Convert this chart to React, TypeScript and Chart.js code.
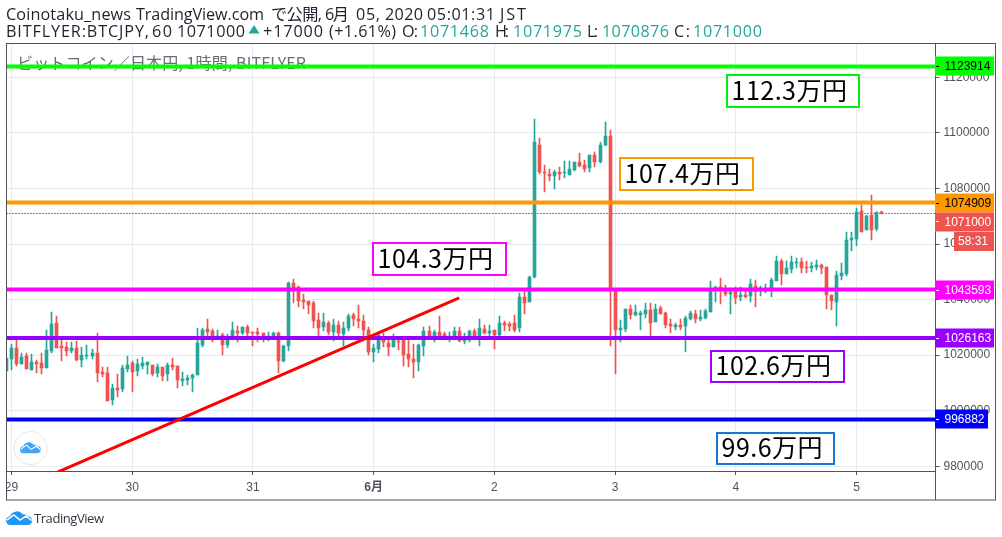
import React, { useEffect, useRef } from "react";
import { Chart, registerables } from "chart.js";

Chart.register(...registerables);

const firstIndex = -1;
const opens = [
  1014300,1018600,1022600,1016800,1019700,1014700,1017500,1017200,1015400,1021500,
  1031600,1023300,1022900,1021500,1022600,1018300,1019700,1019700,1020800,1013900,
  1013600,1003900,1008200,1007800,1015000,1017200,1014300,1016100,1016500,1016500,
  1013600,1015700,1013200,1016500,1016100,1010700,1011100,1011800,1012900,1023700,
  1029400,1028700,1026200,1027300,1023700,1026200,1028700,1028000,1030100,1028300,
  1028300,1028000,1026700,1026900,1028000,1017900,1023300,1046000,1044500,1039900,
  1039500,1038800,1032700,1030100,1031600,1028300,1030900,1027600,1029800,1034500,
  1033000,1032300,1029100,1021100,1022200,1025800,1024400,1022900,1025100,1025500,
  1020400,1018600,1017500,1023300,1028700,1026700,1028300,1027600,1026700,1026900,
  1028700,1025100,1025500,1028700,1026900,1029400,1028000,1029100,1027300,1031600,
  1031200,1031600,1029800,1040900,1039100,1048100,1095700,1085900,1085200,1084500,
  1085900,1085600,1084900,1086700,1089500,1088500,1087400,1092100,1089500,1095700,
  1098900,1043700,1029100,1029400,1036600,1034500,1034600,1034800,1036300,1031900,
  1037000,1035200,1031200,1030100,1030900,1030500,1033000,1034800,1033000,1033400,
  1035500,1043500,1044500,1043500,1042000,1043500,1040900,1041700,1041300,1044900,
  1043100,1043200,1043500,1046700,1053900,1049200,1051000,1053200,1053500,1051700,
  1051400,1051700,1052500,1051700,1041700,1039100,1048500,1049200,1061500,1061800,
  1071900,1065100,1070500,1065400,1071468,
];
const highs = [
  1019000,1024000,1026100,1020700,1020700,1020400,1018300,1020800,1029100,1035500,
  1034100,1026100,1024700,1024700,1025200,1022900,1023700,1022200,1028000,1015700,
  1015700,1009600,1013200,1016500,1019700,1017900,1018600,1019300,1017500,1016500,
  1016800,1015700,1017200,1019000,1016100,1013900,1012900,1013200,1029800,1029800,
  1033000,1029400,1029100,1028000,1027600,1031900,1030500,1030100,1030900,1028300,
  1029800,1028000,1028300,1028300,1028300,1023700,1046300,1047400,1044900,1042000,
  1039500,1039500,1035200,1035200,1032300,1033000,1032300,1031900,1034800,1035200,
  1038100,1034500,1030100,1024000,1027600,1028000,1025800,1027600,1025800,1025800,
  1025800,1024000,1024000,1030100,1030500,1029100,1034100,1028300,1028500,1030100,
  1030100,1027800,1029100,1029400,1033000,1030900,1030900,1029100,1034100,1032300,
  1031900,1034500,1042400,1043500,1048500,1105000,1098200,1088500,1087000,1086700,
  1087700,1089900,1089900,1089500,1092800,1090300,1092100,1093100,1096700,1103900,
  1101100,1043800,1032700,1036600,1038100,1038100,1035900,1038800,1038800,1038400,
  1037700,1035500,1033000,1031600,1033000,1034100,1035900,1036300,1036300,1036600,
  1046700,1044900,1047800,1045300,1044200,1044500,1044500,1043500,1047400,1047100,
  1044900,1045600,1047800,1055700,1054600,1053900,1055700,1055000,1055000,1053900,
  1053500,1054300,1052800,1051700,1041700,1050300,1053200,1064300,1064300,1073000,
  1074100,1070500,1077700,1071500,1071975,
];
const lows = [
  1014300,1014700,1016100,1016800,1015000,1014700,1013600,1013200,1015400,1020900,
  1022600,1017900,1019700,1020800,1017900,1015700,1018600,1018600,1010300,1012100,
  1003500,1002100,1004900,1006700,1013900,1006700,1012500,1015000,1013200,1012500,
  1012100,1010700,1010700,1014700,1008200,1008900,1009300,1006700,1012900,1022900,
  1026900,1024900,1026200,1020100,1022600,1025500,1024700,1027300,1026900,1023300,
  1024700,1024700,1025100,1026900,1013600,1017500,1021500,1038800,1037300,1036600,
  1034800,1029800,1026900,1028700,1027300,1025100,1026900,1023300,1028700,1030500,
  1029800,1026900,1020100,1017500,1020800,1022900,1019700,1022900,1021900,1016100,
  1015700,1011800,1014300,1019700,1026100,1024700,1026700,1026900,1024700,1025500,
  1024700,1024000,1024700,1025500,1023300,1027600,1026900,1022200,1026900,1028700,
  1028700,1028300,1028300,1034800,1039100,1047900,1085200,1078700,1082700,1079800,
  1083100,1083800,1084900,1086300,1087700,1085900,1085900,1087700,1089200,1095300,
  1023300,1013200,1024700,1028300,1033000,1034100,1029100,1033400,1026700,1031900,
  1034800,1029800,1028000,1029100,1029100,1021100,1032700,1031600,1032300,1033000,
  1035500,1039100,1038400,1041300,1034800,1038400,1039500,1040600,1039100,1037300,
  1041300,1042400,1040900,1046700,1045300,1049200,1049600,1051400,1049600,1049600,
  1049900,1050700,1049200,1036600,1036300,1030500,1047100,1048500,1057500,1059300,
  1064300,1065100,1061500,1064700,1070876,
];
const closes = [
  1019000,1022600,1016800,1019300,1015000,1017500,1016800,1015400,1021900,1031200,
  1022600,1022600,1021500,1022600,1018300,1020100,1020100,1020800,1013600,1013200,
  1003500,1008200,1007500,1015400,1016500,1013900,1016800,1017200,1017500,1013200,
  1015700,1012500,1016500,1015700,1011100,1011400,1011800,1012900,1024400,1029100,
  1028300,1026900,1026900,1023700,1025800,1029100,1028000,1030100,1028000,1028000,
  1027600,1026900,1026900,1028000,1017900,1023300,1046000,1044200,1039500,1039100,
  1038100,1032300,1029800,1031900,1028300,1030900,1028000,1029800,1034100,1033000,
  1032300,1029100,1021100,1022600,1027300,1024700,1022900,1025800,1024700,1020100,
  1018600,1017500,1023700,1028700,1026900,1028300,1026900,1026900,1026900,1028700,
  1025100,1025800,1028700,1026900,1029700,1028000,1028700,1027300,1031600,1030900,
  1030500,1029100,1040900,1038800,1048100,1096700,1085900,1085600,1084500,1085900,
  1085200,1085900,1087000,1089500,1088100,1087000,1092100,1089500,1095700,1098900,
  1043700,1029100,1029800,1036600,1034500,1035500,1035200,1036300,1031600,1036600,
  1034800,1030900,1030500,1030900,1030100,1033400,1035200,1033000,1033700,1035900,
  1043500,1044500,1043500,1042000,1042700,1040600,1041700,1040900,1045600,1042700,
  1043800,1043800,1047100,1053900,1049200,1051400,1053500,1053500,1051400,1051400,
  1052100,1052500,1051400,1041700,1039500,1048900,1049600,1061500,1062200,1071500,
  1064300,1070100,1065100,1071500,1071000,
];

const dayTickValues = [0, 24, 48, 72, 96, 120, 144, 168];
const dayTickLabels = ["29", "30", "31", "6月", "2", "3", "4", "5"];
const priceTickValues = [980000, 1000000, 1020000, 1040000, 1060000, 1080000, 1100000, 1120000];
const lastPrice = 1071000;
const countdownText = "58:31";
const levelValues = [1123914, 1074909, 1043593, 1026163, 996882];
const levelColors = ["#00ff00", "#ff9800", "#ff00ff", "#9900ff", "#0000ff"];
const levelTextColors = ["#000000", "#000000", "#ffffff", "#ffffff", "#ffffff"];
const trendX = [8, 89];
const trendY = [977000, 1040600];

const noteTexts = ["112.3万円", "107.4万円", "104.3万円", "102.6万円", "99.6万円"];
const noteColors = ["#00f014", "#ff9800", "#ff00ff", "#9900ff", "#1976d2"];
const noteBoxes = [
  [727, 75, 132, 32],
  [620, 158, 133, 32],
  [373, 243, 133, 32],
  [711, 351, 133, 31],
  [717, 433, 117, 31],
];

const headerLine1 = ["Coinotaku_news", "TradingView.com", "で公開,", "6月", "05,", "2020", "05:01:31", "JST"];
const headerLine1Spans = [[6, 131], [136, 264], [271, 322], [325, 349], [356, 380], [385, 423], [427, 495], [500, 526]];
const headerLine2 = ["BITFLYER:BTCJPY,", "60", "1071000", "+17000", "(+1.61%)", "O:", "1071468", "H:", "1071975", "L:", "1070876", "C:", "1071000"];
const headerLine2Spans = [[6, 149], [152, 172], [177, 245], [263, 323], [329, 396], [402, 418], [420, 489], [495, 509], [513, 582], [587, 598], [602, 669], [674, 690], [693, 762]];
const headerLine2Teal = [6, 8, 10, 12];

const UP = "#26a69a";
const DOWN = "#ef5350";
const GRID = "#e3ecf3";
const FRAME = "#50535e";
const AXIS_TEXT = "#50535e";
const INK = "#1e222d";
const HEAD_FONT = '16.2px "Open Sans", "Noto Sans CJK JP", sans-serif';

function fitText(ctx: any, text: string, x0: number, x1: number, y: number) {
  ctx.letterSpacing = "0px";
  const w = ctx.measureText(text).width;
  const n = Math.max(1, text.length - 1);
  ctx.letterSpacing = `${((x1 - x0 - w) / n).toFixed(3)}px`;
  ctx.fillText(text, x0, y);
  ctx.letterSpacing = "0px";
}

function cloud(ctx: CanvasRenderingContext2D, x: number, y: number, s: number, color: string) {
  ctx.save();
  ctx.translate(x, y);
  ctx.scale(s, s);
  ctx.fillStyle = color;
  ctx.beginPath();
  ctx.arc(5, 11, 5, Math.PI / 2, Math.PI * 1.5);
  ctx.bezierCurveTo(5, 3, 9, 1, 12, 0.5);
  ctx.bezierCurveTo(15, 0, 18, 2, 19, 4);
  ctx.bezierCurveTo(21, 3, 24, 5, 24.5, 7);
  ctx.arc(25, 11, 5, -Math.PI / 2.4, Math.PI / 2);
  ctx.closePath();
  ctx.fill();
  ctx.strokeStyle = "#ffffff";
  ctx.lineWidth = 1.6;
  ctx.beginPath();
  ctx.moveTo(1, 10.5);
  ctx.lineTo(9, 4.5);
  ctx.lineTo(16, 10.5);
  ctx.lineTo(23, 6);
  ctx.lineTo(29.5, 11);
  ctx.stroke();
  ctx.restore();
}

const snapPlugin = {
  id: "snap",
  afterDatasetsUpdate(chart: any) {
    chart.data.datasets.forEach((ds: any, i: number) => {
      if (ds.type !== "bar") return;
      chart.getDatasetMeta(i).data.forEach((el: any) => {
        el.x = Math.floor(el.x) + 0.5;
        const top = Math.round(Math.min(el.y, el.base));
        let bottom = Math.round(Math.max(el.y, el.base));
        if (bottom - top < 1) bottom = top + 1;
        el.y = top;
        el.base = bottom;
      });
    });
  },
};

const decorPlugin = {
  id: "decor",
  beforeDatasetsDraw(chart: any) {
    const ctx = chart.ctx;
    ctx.save();
    ctx.font = '16px "Noto Sans CJK JP", sans-serif';
    ctx.fillStyle = "#6a6d78";
    ctx.textBaseline = "middle";
    ctx.textAlign = "left";
    fitText(ctx, "ビットコイン／日本円, 1時間, BITFLYER", 17, 306, 62.5);
    ctx.restore();
  },
  afterDatasetsDraw(chart: any) {
    const ctx = chart.ctx;
    ctx.save();
    noteTexts.forEach((t, i) => {
      const [x, y, w, h] = noteBoxes[i];
      ctx.fillStyle = "#ffffff";
      ctx.fillRect(x, y, w, h);
      ctx.strokeStyle = noteColors[i];
      ctx.lineWidth = 2;
      ctx.strokeRect(x, y, w, h);
      ctx.fillStyle = "#000000";
      ctx.font = '25px "Noto Sans CJK JP", sans-serif';
      ctx.textBaseline = "middle";
      ctx.textAlign = "left";
      ctx.letterSpacing = "0.5px";
      ctx.fillText(t, x + 4.5, y + h / 2 - 1);
      ctx.letterSpacing = "0px";
    });
    ctx.restore();
  },
  afterDraw(chart: any) {
    const ctx = chart.ctx;
    const { left, right, top, bottom } = chart.chartArea;
    const yScale = chart.scales.y;
    ctx.save();
    // mask left of the frame
    ctx.fillStyle = "#ffffff";
    ctx.fillRect(0, bottom, left, 30);

    // outer frame
    ctx.strokeStyle = FRAME;
    ctx.lineWidth = 1;
    ctx.strokeRect(6.5, top, 989, 500 - top);
    ctx.beginPath();
    ctx.moveTo(right, top);
    ctx.lineTo(right, 500);
    ctx.stroke();

    // price tags
    ctx.font = '12px "Liberation Sans", sans-serif';
    ctx.textBaseline = "middle";
    ctx.textAlign = "left";
    const tag = (cy: number, w: number, bg: string, fg: string, text: string, mark: number) => {
      ctx.fillStyle = bg;
      ctx.fillRect(right - 0.5, cy - 9.5, w, 19);
      ctx.fillStyle = fg;
      ctx.fillRect(right + 0.5, mark, 3, 1);
      ctx.fillText(text, right + 9, cy + 0.5);
    };
    levelValues.forEach((v, i) => {
      const cy = Math.round(yScale.getPixelForValue(v));
      const text = String(v);
      tag(cy, text.length > 6 ? 59 : 53, levelColors[i], levelTextColors[i], text, cy);
    });
    const lastY = Math.round(yScale.getPixelForValue(lastPrice));
    tag(lastY + 9, 59, DOWN, "#ffffff", String(lastPrice), lastY + 8);
    ctx.fillStyle = DOWN;
    ctx.fillRect(954, lastY + 19, 40, 19);
    ctx.fillStyle = "#ffffff";
    ctx.fillText(countdownText, 958, lastY + 28.5);

    // header
    ctx.font = HEAD_FONT;
    ctx.fillStyle = INK;
    headerLine1.forEach((t, i) => fitText(ctx, t, headerLine1Spans[i][0], headerLine1Spans[i][1], 15.5));
    headerLine2.forEach((t, i) => {
      ctx.fillStyle = headerLine2Teal.includes(i) ? UP : INK;
      fitText(ctx, t, headerLine2Spans[i][0], headerLine2Spans[i][1], 32);
    });
    ctx.fillStyle = UP;
    ctx.beginPath();
    ctx.moveTo(254, 25);
    ctx.lineTo(259.5, 33.5);
    ctx.lineTo(248.5, 33.5);
    ctx.closePath();
    ctx.fill();

    // round logo
    ctx.fillStyle = "#ffffff";
    ctx.strokeStyle = "#e6e6e6";
    ctx.lineWidth = 1;
    ctx.beginPath();
    ctx.arc(30.5, 448, 16.5, 0, Math.PI * 2);
    ctx.fill();
    ctx.stroke();
    cloud(ctx, 20, 442, 0.7, "#42a5f5");

    // footer
    cloud(ctx, 6, 511, 0.87, "#2196f3");
    ctx.fillStyle = "#333640";
    ctx.font = '13px "Open Sans", sans-serif';
    fitText(ctx, "TradingView", 34, 104, 519);
    ctx.restore();
  },
};

export default function App() {
  const ref = useRef<HTMLCanvasElement>(null);
  useEffect(() => {
    const xs = opens.map((_, i) => i + firstIndex);
    const colors = opens.map((o, i) => (closes[i] >= o ? UP : DOWN));
    const lineStyle = { pointRadius: 0, borderCapStyle: "butt", fill: false, tension: 0 };
    const hLine = (v: number, color: string, width: number) => ({
      type: "line",
      data: [{ x: -1, y: v }, { x: 184, y: v }],
      borderColor: color,
      borderWidth: width,
      ...lineStyle,
    });
    const chart = new Chart(ref.current as HTMLCanvasElement, {
      type: "bar",
      data: {
        datasets: [
          {
            type: "bar",
            data: xs.map((x, i) => ({ x, y: [lows[i], highs[i]] })),
            backgroundColor: colors,
            barThickness: 1,
            grouped: false,
            order: 6,
          },
          {
            type: "bar",
            data: xs.map((x, i) => ({ x, y: [opens[i], closes[i]] })),
            backgroundColor: colors,
            barThickness: 3,
            grouped: false,
            order: 5,
          },
          {
            ...hLine(lastPrice, DOWN, 1),
            borderDash: [2, 1],
            borderDashOffset: 0.5,
            order: 4,
          },
          ...levelValues
            .map((v, i) => ({ ...hLine(v, levelColors[i], 4), order: 3 }))
            .slice()
            .reverse(),
          {
            type: "line",
            data: trendX.map((x, i) => ({ x, y: trendY[i] })),
            borderColor: "#ff0000",
            borderWidth: 3,
            ...lineStyle,
            order: 1,
          },
        ],
      } as any,
      plugins: [snapPlugin, decorPlugin],
      options: {
        animation: false,
        responsive: false,
        devicePixelRatio: 1,
        layout: { padding: { left: 6.5, right: 6.5, top: 43.5, bottom: 37 } },
        plugins: { legend: { display: false }, tooltip: { enabled: false }, title: { display: false } },
        scales: {
          x: {
            type: "linear",
            min: -1,
            max: 183.7,
            offset: false,
            afterFit(s: any) {
              s.height = 29;
              s.paddingLeft = 0;
              s.paddingRight = 0;
            },
            afterBuildTicks(s: any) {
              s.ticks = dayTickValues.map((value) => ({ value }));
            },
            grid: { offset: false, color: GRID, tickColor: FRAME, tickLength: 4, lineWidth: 1 },
            border: { display: true, color: FRAME },
            ticks: {
              autoSkip: false,
              maxRotation: 0,
              minRotation: 0,
              padding: 5,
              color: AXIS_TEXT,
              font: (c: any) => ({
                family: '"Liberation Sans", "Noto Sans CJK JP", sans-serif',
                size: 12,
                weight: c.tick && c.tick.value === 72 ? "bold" : "normal",
              }),
              callback: (v: any) => dayTickLabels[dayTickValues.indexOf(v)],
            },
          },
          y: {
            type: "linear",
            position: "right",
            min: 978309,
            max: 1132168,
            afterFit(s: any) {
              s.width = 60;
              s.paddingTop = 0;
              s.paddingBottom = 0;
            },
            afterBuildTicks(s: any) {
              s.ticks = priceTickValues.map((value) => ({ value }));
            },
            grid: { color: GRID, tickColor: FRAME, tickLength: 4, lineWidth: 1 },
            border: { display: true, color: FRAME },
            ticks: {
              padding: 4,
              color: AXIS_TEXT,
              font: { family: '"Liberation Sans", sans-serif', size: 12 },
              callback: (v: any) => String(v),
            },
          },
        },
      },
    } as any);
    return () => chart.destroy();
  }, []);
  return (
    <div style={{ position: "fixed", left: 0, top: 0, width: 1002, height: 537, background: "#ffffff" }}>
      <canvas ref={ref} width={1002} height={537} style={{ display: "block", width: 1002, height: 537 }} />
    </div>
  );
}
